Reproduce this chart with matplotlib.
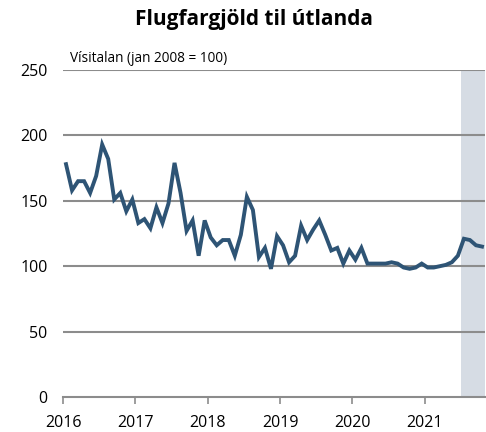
import matplotlib
matplotlib.use("Agg")
import matplotlib.pyplot as plt
import numpy as np

plt.rcParams['font.family'] = ['Open Sans', 'DejaVu Sans']

title = "Flugfargjöld til útlanda"
subtitle = "Vísitalan (jan 2008 = 100)"
start_year = 2016
years = [2016, 2017, 2018, 2019, 2020, 2021]
values = [
    178, 158, 165, 165, 156, 169, 193, 182, 151, 156, 142, 151,  # 2016
    133, 136, 129, 145, 133, 148, 179, 156, 127, 135, 108, 135,  # 2017
    122, 116, 120, 120, 108, 124, 153, 143, 107, 114, 98, 123,   # 2018
    116, 103, 108, 131, 120, 128, 135, 124, 112, 114, 102, 112,  # 2019
    105, 114, 102, 102, 102, 102, 103, 102, 99, 98, 99, 102,     # 2020
    99, 99, 100, 101, 103, 108, 121, 120, 116, 115,              # 2021
]
shade_start_month = 66  # July 2021
n_months = 70

x = np.arange(len(values)) + 0.5

fig = plt.figure(figsize=(4.86, 4.32), dpi=100)
ax = fig.add_axes([63/486, 1-397/432, (485-63)/486, (397-70)/432])

ax.axvspan(shade_start_month, n_months, color='#D6DCE4', zorder=0, lw=0)
for yv in [50, 100, 150, 200, 250]:
    ax.axhline(yv, color='#8C8C8C', lw=1.5, zorder=1)
ax.plot(x, values, color='#2E5475', lw=2.8, zorder=3, solid_joinstyle='miter')

ax.set_xlim(0, n_months)
ax.set_ylim(0, 250)
ax.set_yticks([0, 50, 100, 150, 200, 250])
ax.set_xticks([(y - start_year) * 12 for y in years])
ax.set_xticklabels([str(y) for y in years])
for s in ['top', 'right', 'left']:
    ax.spines[s].set_visible(False)
ax.spines['bottom'].set_color('#8C8C8C')
ax.spines['bottom'].set_linewidth(1.5)
ax.tick_params(axis='y', length=0, pad=11, labelsize=11.5, colors='black')
ax.tick_params(axis='x', length=5, width=1.2, color='#8C8C8C', pad=8, labelsize=11.5)

fig.text(254/486, 1-20/432, title, ha='center', va='center', fontsize=15, fontweight='bold')
ax.text(70/486, 1-59/432, subtitle, transform=fig.transFigure, ha='left', va='center', fontsize=9.8)

fig.savefig("out.png", dpi=100)
